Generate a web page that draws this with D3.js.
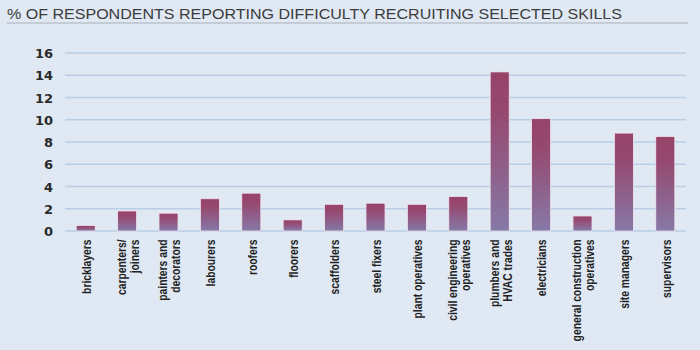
<!DOCTYPE html>
<html><head><meta charset="utf-8">
<script src="https://cdn.jsdelivr.net/npm/d3@7"></script>
<style>
html,body{margin:0;padding:0;background:#e0e9f3;}
svg{display:block;}
</style></head>
<body>
<svg id="c" width="700" height="350"></svg>
<script>
const categories = [
  ["bricklayers"],
  ["carpenters/","joiners"],
  ["painters and","decorators"],
  ["labourers"],
  ["roofers"],
  ["floorers"],
  ["scaffolders"],
  ["steel fixers"],
  ["plant operatives"],
  ["civil engineering","operatives"],
  ["plumbers and","HVAC trades"],
  ["electricians"],
  ["general construction","operatives"],
  ["site managers"],
  ["supervisors"]
];
const values = [0.5, 1.8, 1.6, 2.9, 3.4, 1.0, 2.4, 2.5, 2.4, 3.1, 14.3, 10.1, 1.35, 8.8, 8.5];
const yTicks = [0, 2, 4, 6, 8, 10, 12, 14, 16];
const title = "% OF RESPONDENTS REPORTING DIFFICULTY RECRUITING SELECTED SKILLS";

const svg = d3.select("#c");
svg.append("rect").attr("width",700).attr("height",350).attr("fill","#e0e9f3");

const defs = svg.append("defs");
const g = defs.append("linearGradient").attr("id","bg").attr("x1",0).attr("y1",0).attr("x2",0).attr("y2",1);
g.append("stop").attr("offset","0%").attr("stop-color","#97436a");
g.append("stop").attr("offset","25%").attr("stop-color","#96486f");
g.append("stop").attr("offset","100%").attr("stop-color","#8679a7");

// title
const t = svg.append("text").attr("x",7).attr("y",18.5)
  .attr("font-family","'Liberation Sans',Arial,sans-serif")
  .attr("font-weight","normal")
  .attr("font-size",15.5).attr("fill","#3c3c3c")
  .text(title);
t.attr("textLength",615).attr("lengthAdjust","spacingAndGlyphs");
svg.append("line").attr("x1",7).attr("x2",688).attr("y1",23).attr("y2",23)
  .attr("stroke","#a9afb7").attr("stroke-width",1.2);

const x = d3.scaleBand().domain(d3.range(categories.length)).range([65,686]).paddingInner(0.54).paddingOuter(0.27);
const y = d3.scaleLinear().domain([0,16]).range([231,53]);

// grid
svg.append("g").selectAll("line").data(yTicks).join("line")
  .attr("x1",65).attr("x2",686).attr("y1",d=>y(d)).attr("y2",d=>y(d))
  .attr("stroke","#b9cde5").attr("stroke-width",1.3);

// y axis labels
const yAxis = d3.axisLeft(y).tickValues(yTicks).tickSize(0).tickPadding(0);
const ya = svg.append("g").attr("transform","translate(53,0)").call(yAxis);
ya.select(".domain").remove();
ya.selectAll("text").attr("font-family","'DejaVu Sans',sans-serif").attr("font-weight","bold")
  .attr("font-size",13).attr("fill","#2a2a2a").attr("dy","0.36em");

// bars
svg.append("g").selectAll("rect").data(values).join("rect")
  .attr("x",(d,i)=>x(i)).attr("width",x.bandwidth())
  .attr("y",d=>y(d)).attr("height",d=>y(0)-y(d))
  .attr("fill","url(#bg)").attr("stroke","#efe6ee").attr("stroke-width",0.8);

// x labels
const lab = svg.append("g").selectAll("g").data(categories).join("g")
  .attr("transform",(d,i)=>`translate(${x(i)+x.bandwidth()/2+1},239.5) rotate(-90)`);
lab.each(function(lines){
  const n = lines.length;
  d3.select(this).selectAll("text").data(lines).join("text")
    .attr("x",0).attr("y",(d,j)=>(j-(n-1)/2)*13)
    .attr("dy","0.36em").attr("text-anchor","end")
    .attr("font-family","'Liberation Sans',Arial,sans-serif").attr("font-weight","bold")
    .attr("font-size",12).attr("fill","#222").text(d=>d);
});
// horizontally condense labels to match the reference's condensed face
const allLabels = lab.selectAll("text");
let refLen = 0;
allLabels.each(function(d){ if (d === "plant operatives") refLen = this.getComputedTextLength(); });
const k = refLen > 0 ? 79 / refLen : 0.85;
allLabels.each(function(){
  const L = this.getComputedTextLength();
  d3.select(this).attr("textLength", L*k).attr("lengthAdjust","spacingAndGlyphs");
});
</script>
</body></html>
